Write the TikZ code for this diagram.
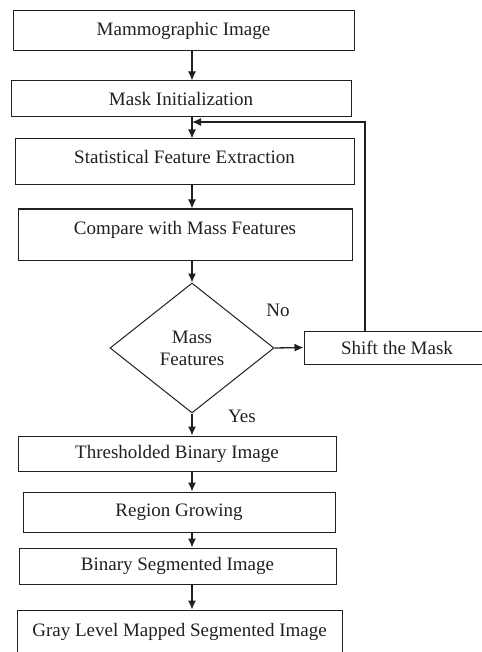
\documentclass[tikz,border=0pt]{standalone}
\usepackage{fontspec}
\setmainfont{Liberation Serif}
\usetikzlibrary{shapes.geometric,arrows.meta}

\definecolor{flowline}{RGB}{35,31,32}

\begin{document}
\begin{tikzpicture}[x=1pt, y=-1pt, line width=1pt, flowline,
    every node/.style={font=\fontsize{19}{22}\selectfont, text=flowline},
    stepbox/.style={draw, rectangle, inner sep=0pt},
    choice/.style={draw, diamond, inner sep=0pt, align=center},
    arr/.style={line width=1.3pt, -{Latex[length=9pt,width=8pt]}}]

  \useasboundingbox (0,0) rectangle (481,652);

  % ---------------- main column ----------------
  \coordinate (spine) at (192,0);
  \node[stepbox, minimum width=341pt, minimum height=40pt] (mam) at (183.5,31) {Mammographic Image};
  \node[stepbox, minimum width=340pt, minimum height=36pt] (mask) at (181,99) {Mask Initialization};
  \node[stepbox, minimum width=339pt, minimum height=46pt, text depth=10pt] (stat) at (184.5,162) {Statistical Feature Extraction};
  \node[stepbox, minimum width=334pt, minimum height=51pt, text depth=13pt] (cmp) at (185,234.5) {Compare with Mass Features};
  \node[choice, minimum width=164pt, minimum height=130pt] (mass) at (192,348) {Mass\\Features};
  \node[stepbox, minimum width=318pt, minimum height=35pt] (thr) at (177,453.5) {Thresholded Binary Image};
  \node[stepbox, minimum width=312pt, minimum height=40pt] (reg) at (179,512) {Region Growing};
  \node[stepbox, minimum width=317pt, minimum height=36pt] (bin) at (177.5,566) {Binary Segmented Image};
  \node[stepbox, minimum width=325pt, minimum height=44pt] (gray) at (179.5,632) {Gray Level Mapped Segmented Image};

  % ---------------- the No branch ----------------
  \node[stepbox, minimum width=186pt, minimum height=33pt] (shift) at (397,347.5) {Shift the Mask};
  \coordinate (back) at (365,0);
  \coordinate (loop) at (192,122);
  \node (no) at (278,310) {No};
  \node (yes) at (242,416) {Yes};

  % arrows down the column
  \draw[arr] (mam.south -| spine) -- (mask.north -| spine);
  \draw[arr] (mask.south -| spine) -- (stat.north -| spine);
  \draw[arr] (stat.south -| spine) -- (cmp.north -| spine);
  \draw[arr] (cmp.south -| spine) -- (mass.north);
  \draw[arr] (mass.south) -- (thr.north -| spine);
  \draw[arr] (thr.south -| spine) -- (reg.north -| spine);
  \draw[arr] (reg.south -| spine) -- (bin.north -| spine);
  \draw[arr] (bin.south -| spine) -- (gray.north -| spine);
  % feedback loop
  \draw[arr] (mass.east) -- (shift.west);
  \draw[arr] (shift.north -| back) |- (loop);

\end{tikzpicture}
\end{document}
